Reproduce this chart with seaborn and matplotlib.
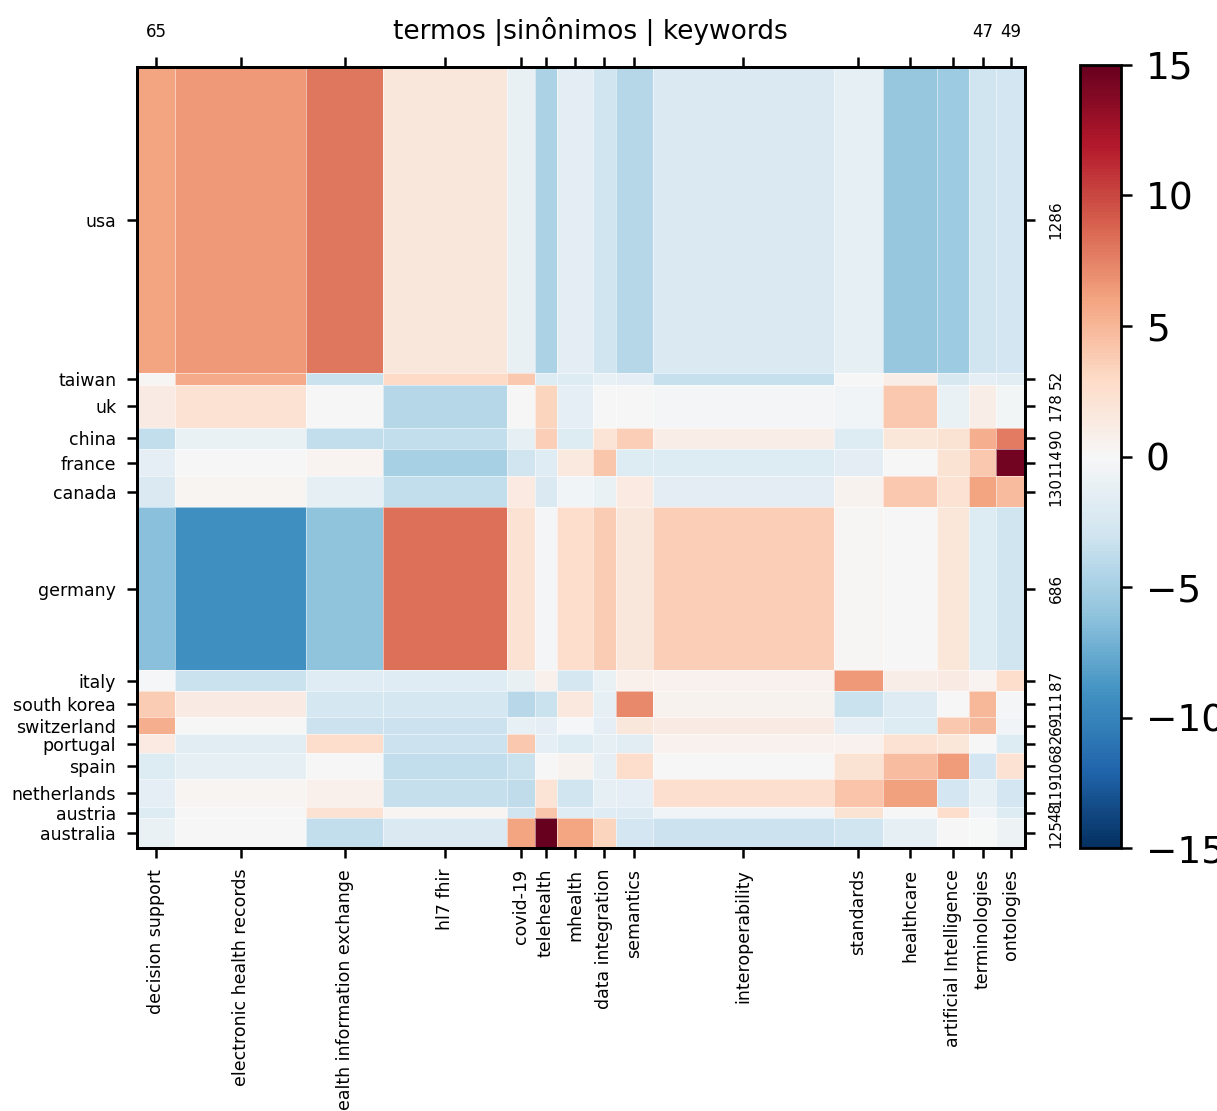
import numpy as np
import matplotlib
matplotlib.use("Agg")
import matplotlib.pyplot as plt
import seaborn as sns

# países (linhas) e termos (colunas)
countries = ["usa", "taiwan", "uk", "china", "france", "canada", "germany", "italy",
             "south korea", "switzerland", "portugal", "spain", "netherlands",
             "austria", "australia"]
keywords = ["decision support", "electronic health records", "health information exchange",
            "hl7 fhir", "covid-19", "telehealth", "mhealth", "data integration",
            "semantics", "interoperability", "standards", "healthcare",
            "artificial Intelligence", "terminologies", "ontologies"]

row_totals = [1286, 52, 178, 90, 114, 130, 686, 87, 111, 69, 82, 106, 119, 48, 125]
col_totals = [65, 224, 132, 212, 48, 37, 62, 39, 63, 310, 84, 92, 55, 47, 49]
top_labels = ["65", "", "", "", "", "", "", "", "", "", "", "", "", "47", "49"]

# resíduos (linha x coluna)
residuals = np.array([
    [6.0, 6.5, 8.0, 1.7, -1.1, -4.8, -1.6, -3.0, -4.3, -2.2, -1.3, -5.8, -5.4, -3.0, -2.8],
    [0.2, 5.7, -3.3, 3.0, 4.0, -2.0, -2.0, -1.2, -1.5, -3.5, 0.0, 1.0, -2.5, -1.5, -1.7],
    [1.2, 2.3, 0.0, -4.3, 0.0, 3.3, -1.5, 0.0, 0.0, -0.3, -0.5, 4.0, -1.0, 1.0, -0.4],
    [-3.7, -1.0, -3.7, -3.7, -1.4, 3.7, -2.0, 2.0, 3.7, 1.0, -2.0, 1.8, 2.2, 5.5, 7.8],
    [-1.5, 0.0, 0.4, -5.0, -3.0, -1.8, 1.5, 4.2, -2.0, -2.0, -1.6, 0.0, 2.2, 4.0, 14.5],
    [-2.3, 0.3, -1.4, -3.7, 1.3, -2.2, -0.5, -1.0, 1.3, -1.6, 0.5, 4.0, 2.3, 6.0, 4.7],
    [-6.3, -9.2, -6.0, 8.3, 2.3, -0.3, 2.7, 3.8, 1.7, 3.7, 0.2, 0.0, 1.8, -2.0, -3.0],
    [-0.2, -3.3, -1.8, -1.8, -1.1, 0.8, -2.6, -1.0, 0.8, 0.6, 6.5, 1.0, 1.2, 0.4, 2.8],
    [3.8, 1.2, -2.6, -2.6, -4.2, -3.3, 1.6, -1.4, 7.2, 0.5, -3.3, -1.9, 0.0, 5.0, -0.3],
    [5.5, 0.0, -3.2, -3.2, -1.2, -1.5, -0.2, -1.5, 1.7, 1.2, -1.5, -2.0, 4.0, 4.9, -0.5],
    [1.3, -1.7, 2.7, -3.2, 4.0, -1.5, -2.0, -1.4, -1.7, 0.7, 0.6, 2.3, 1.8, 0.0, -2.0],
    [-2.0, -1.3, 0.0, -3.7, -3.3, 0.0, 0.5, -1.4, 2.8, 0.0, 2.2, 4.6, 6.4, -2.7, 2.3],
    [-1.5, 0.3, 0.8, -3.6, -3.8, 2.0, -3.0, -1.3, -1.5, 2.5, 4.3, 6.1, -2.8, -1.2, -2.7],
    [-2.0, 0.1, 2.3, 0.3, -3.0, 4.2, -1.8, -1.8, -1.9, -0.5, 2.2, 0.0, 2.7, -0.5, -2.0],
    [-1.0, 0.0, -3.7, -2.3, 6.0, 15.0, 5.9, 3.3, -2.8, -3.2, -3.0, -1.3, 0.0, -0.1, -0.8],
])

sns.set_style("white")
plt.rcParams['font.family'] = ['DejaVu Sans']
plt.rcParams['text.color'] = 'black'
plt.rcParams['xtick.color'] = 'black'
plt.rcParams['ytick.color'] = 'black'

fig = plt.figure(figsize=(12.17, 11.11), dpi=100)
ax = fig.add_axes([0.1126, 0.2367, 0.7297, 0.7030])
cax = fig.add_axes([0.8874, 0.2367, 0.0337, 0.7048])

# bordas das células proporcionais aos totais
xe = np.concatenate([[0], np.cumsum(col_totals)])
ye = np.concatenate([[0], np.cumsum(row_totals)])
xc = (xe[:-1] + xe[1:]) / 2
yc = (ye[:-1] + ye[1:]) / 2

cmap = sns.color_palette("RdBu_r", as_cmap=True)
mesh = ax.pcolormesh(xe, ye, residuals, cmap=cmap, vmin=-15, vmax=15,
                     edgecolors=(1, 1, 1, 0.5), linewidth=0.6)
ax.set_xlim(0, xe[-1])
ax.set_ylim(ye[-1], 0)

ax.set_xticks(xc)
ax.set_xticklabels(keywords, rotation=90, fontsize=12.5)
ax.set_yticks(yc)
ax.set_yticklabels(countries, fontsize=12.5)
ax.tick_params(axis='x', length=7, width=1.8, pad=8, bottom=True)
ax.tick_params(axis='y', length=7, width=1.8, pad=8, left=True)

top = ax.twiny()
top.set_xlim(ax.get_xlim())
top.set_xticks(xc)
top.set_xticklabels(top_labels, fontsize=12)
top.tick_params(axis='x', length=7, width=1.8, pad=12)

right = ax.twinx()
right.set_ylim(ax.get_ylim())
right.set_yticks(yc)
right.set_yticklabels([str(v) for v in row_totals], rotation=90, va='center', fontsize=11)
right.tick_params(axis='y', length=7, width=1.8, pad=10)

for a in (ax, top, right):
    for s in a.spines.values():
        s.set_linewidth(2)
        s.set_color("black")

fig.text(0.485, 1 - 31 / 1111, "termos |sinônimos | keywords", ha='center', va='center', fontsize=19)

cb = fig.colorbar(mesh, cax=cax, ticks=[-15, -10, -5, 0, 5, 10, 15])
cb.outline.set_linewidth(2)
cb.outline.set_edgecolor("black")
cax.tick_params(labelsize=27, length=8, width=1.8, pad=10)

fig.savefig("out.png", dpi=100)
